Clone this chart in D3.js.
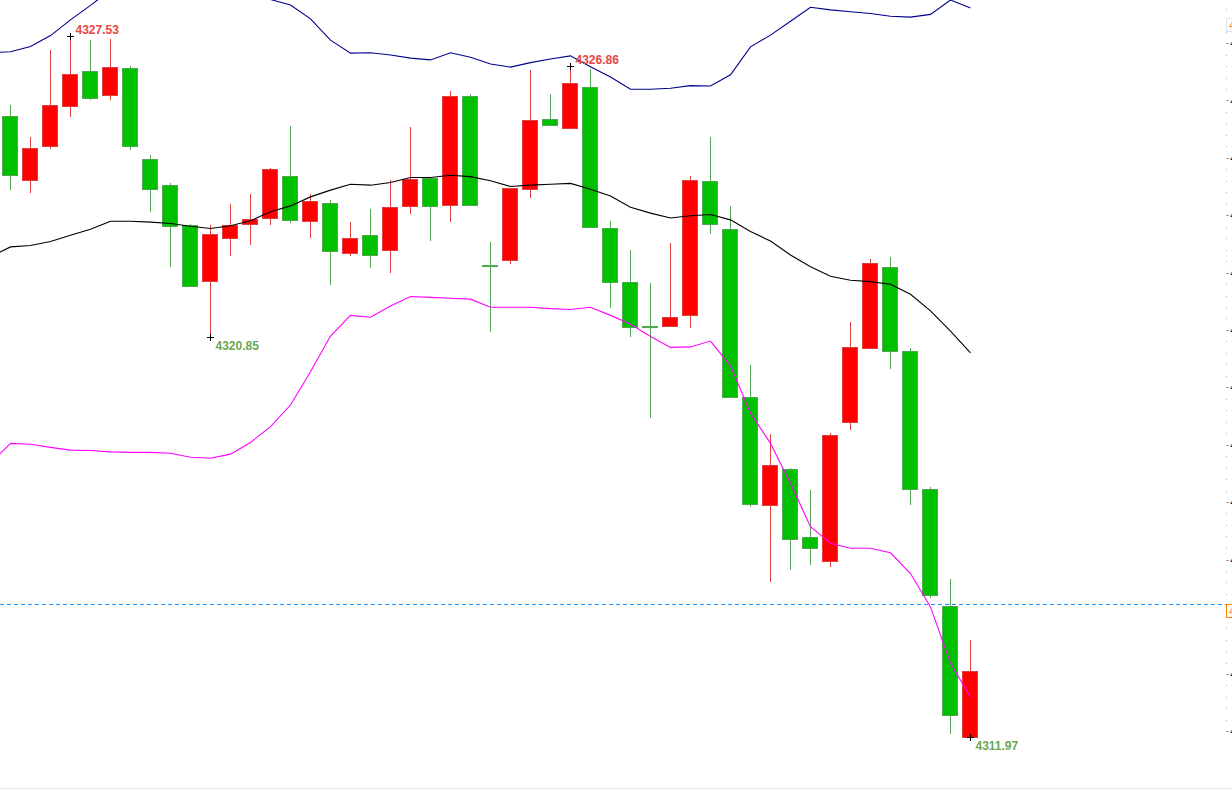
<!DOCTYPE html>
<html>
<head>
<meta charset="utf-8">
<script src="https://cdn.jsdelivr.net/npm/d3@7"></script>
<style>
  html, body { margin: 0; padding: 0; background: #fff; overflow: hidden; }
  svg { display: block; }
</style>
</head>
<body>
<div id="chart"></div>
<script>
// candles, oldest first
var opens = [4325.75, 4324.32, 4325.08, 4325.97, 4326.75, 4326.21, 4326.82, 4324.79, 4324.22, 4323.33,
             4322.09, 4323.04, 4323.37, 4323.48, 4324.42, 4323.41, 4323.82, 4322.71, 4323.11, 4322.77,
             4323.77, 4324.38, 4323.77, 4326.21, 4322.44, 4322.57, 4324.13, 4325.68, 4325.48, 4326.41,
             4323.26, 4322.06, 4321.09, 4321.09, 4321.33, 4324.31, 4323.24, 4319.52, 4317.11, 4317.91,
             4316.40, 4315.88, 4318.96, 4320.60, 4322.40, 4320.53, 4317.47, 4314.88, 4311.97];
var highs = [4325.99, 4325.30, 4327.22, 4327.53, 4327.44, 4327.46, 4326.87, 4324.89, 4324.27, 4323.36,
             4323.33, 4323.81, 4324.03, 4324.60, 4325.53, 4324.02, 4323.89, 4323.40, 4323.69, 4324.33,
             4325.51, 4324.40, 4326.31, 4326.24, 4322.96, 4324.16, 4326.78, 4326.24, 4326.86, 4326.80,
             4323.42, 4322.78, 4322.05, 4322.94, 4324.43, 4325.29, 4323.76, 4320.23, 4318.70, 4317.95,
             4317.45, 4318.71, 4321.18, 4322.58, 4322.63, 4320.60, 4317.52, 4315.48, 4314.12];
var lows = [4324.11, 4324.05, 4325.03, 4325.74, 4326.12, 4326.10, 4325.01, 4323.63, 4322.41, 4321.98,
            4320.85, 4322.65, 4322.89, 4323.34, 4323.37, 4323.05, 4322.01, 4322.65, 4322.39, 4322.28,
            4323.59, 4322.99, 4323.41, 4323.79, 4320.97, 4322.48, 4323.94, 4325.55, 4325.48, 4323.31,
            4321.50, 4320.86, 4319.06, 4321.09, 4321.06, 4323.14, 4319.51, 4317.08, 4315.42, 4315.68,
            4315.79, 4315.75, 4318.78, 4320.60, 4320.15, 4317.13, 4315.05, 4312.04, 4311.97];
var closes = [4324.44, 4325.04, 4325.99, 4326.69, 4326.14, 4326.84, 4325.08, 4324.13, 4323.30, 4321.98,
              4323.13, 4323.33, 4323.48, 4324.57, 4323.44, 4323.86, 4322.75, 4323.04, 4322.66, 4323.73,
              4324.36, 4323.75, 4326.19, 4323.79, 4322.42, 4324.16, 4325.66, 4325.55, 4326.48, 4323.31,
              4322.06, 4321.06, 4321.07, 4321.29, 4324.33, 4323.35, 4319.51, 4317.14, 4318.00, 4316.36,
              4316.16, 4318.67, 4320.62, 4322.49, 4320.54, 4317.47, 4315.12, 4312.47, 4313.43];

// bollinger bands, these start one bar before the first candle (off screen)
var bandUpper = [4327.16,
                 4327.18, 4327.30, 4327.54, 4327.89, 4328.21, 4328.55, 4328.56, 4328.52, 4328.49, 4328.45,
                 4328.40, 4328.40, 4328.37, 4328.34, 4328.22, 4327.91, 4327.44, 4327.15, 4327.16, 4327.11,
                 4327.04, 4327.00, 4327.16, 4327.06, 4326.91, 4326.84, 4326.94, 4327.02, 4327.09, 4326.85,
                 4326.62, 4326.35, 4326.35, 4326.37, 4326.43, 4326.42, 4326.67, 4327.29, 4327.55, 4327.86,
                 4328.17, 4328.11, 4328.07, 4328.03, 4327.97, 4327.95, 4328.01, 4328.33, 4328.15];
var bandMiddle = [4322.63,
                  4322.85, 4322.88, 4322.97, 4323.11, 4323.24, 4323.42, 4323.42, 4323.40, 4323.37, 4323.31,
                  4323.26, 4323.32, 4323.43, 4323.63, 4323.76, 4323.96, 4324.11, 4324.24, 4324.22, 4324.28,
                  4324.39, 4324.39, 4324.44, 4324.41, 4324.32, 4324.19, 4324.22, 4324.24, 4324.26, 4324.13,
                  4323.98, 4323.73, 4323.60, 4323.49, 4323.54, 4323.57, 4323.45, 4323.19, 4322.98, 4322.67,
                  4322.41, 4322.20, 4322.11, 4322.08, 4322.02, 4321.80, 4321.43, 4320.98, 4320.50];
var bandLower = [4318.05,
                 4318.49, 4318.47, 4318.40, 4318.34, 4318.33, 4318.30, 4318.29, 4318.29, 4318.27, 4318.18,
                 4318.16, 4318.25, 4318.51, 4318.86, 4319.34, 4320.08, 4320.87, 4321.33, 4321.29, 4321.54,
                 4321.75, 4321.73, 4321.71, 4321.69, 4321.51, 4321.51, 4321.51, 4321.48, 4321.46, 4321.51,
                 4321.33, 4321.14, 4320.86, 4320.62, 4320.63, 4320.76, 4320.21, 4319.16, 4318.49, 4317.60,
                 4316.64, 4316.27, 4316.16, 4316.16, 4316.06, 4315.60, 4314.86, 4313.61, 4312.86];

// price axis labels (right side, mostly cut off by the window);
// the one at 4314.64 sits under the price tag, so it is left out
var priceTicks = [4327.37, 4326.10, 4324.82, 4323.55, 4322.28, 4321.01, 4319.73,
                  4318.46, 4317.19, 4315.91, 4313.37, 4312.10];
var tickStep = 1.2727;     // spacing of the axis grid, minor ticks every fifth of it

var highMarks = [3, 28];   // candles with a marked high
var lowMarks = [10, 48];   // candles with a marked low
var linePrice = 4314.92;   // dashed price line
var topTagPrice = 4327.78;

var width = 1232, height = 791;
var plotRight = 1226, plotBottom = 788;

var svg = d3.select("#chart")
            .append("svg")
            .attr("width", width)
            .attr("height", height);

var x = d3.scaleLinear().domain([0, 48]).range([10.5, 970.5]);
var y = d3.scaleLinear().domain([4310.84, 4328.33]).range([plotBottom, 0]);
var step = x(1) - x(0);

svg.append("clipPath").attr("id", "plotClip")
   .append("rect").attr("x", 0).attr("y", 0).attr("width", plotRight).attr("height", plotBottom);

var plot = svg.append("g").attr("clip-path", "url(#plotClip)");

var candles = opens.map(function(o, i) {
  return { i: i, o: o, h: highs[i], l: lows[i], c: closes[i], up: closes[i] > o };
});

// wicks
plot.selectAll("line.wick")
    .data(candles)
    .enter()
    .append("line")
    .attr("class", "wick")
    .attr("x1", function(d) { return x(d.i); })
    .attr("x2", function(d) { return x(d.i); })
    .attr("y1", function(d) { return Math.round(y(d.h)); })
    .attr("y2", function(d) { return Math.round(y(d.l)); })
    .attr("stroke", function(d) { return d.up ? "#e04040" : "#55a855"; })
    .attr("stroke-width", 1)
    .attr("shape-rendering", "crispEdges");

// bodies
plot.selectAll("rect.body")
    .data(candles)
    .enter()
    .append("rect")
    .attr("class", "body")
    .attr("x", function(d) { return x(d.i) - step * 0.4; })
    .attr("y", function(d) { return Math.round(y(Math.max(d.o, d.c))) + 0.5; })
    .attr("width", step * 0.8 - 1)
    .attr("height", function(d) {
      return Math.max(1, Math.round(Math.abs(y(d.o) - y(d.c))));
    })
    .attr("fill", function(d) { return d.up ? "#ff0000" : "#00c000"; })
    .attr("stroke", function(d) { return d.up ? "#dd4040" : "#4fa84f"; })
    .attr("stroke-width", 1)
    .attr("shape-rendering", "crispEdges");

// bands
function bandLine(values, colour) {
  var line = d3.line()
               .x(function(d, j) { return x(j - 1); })
               .y(function(d) { return y(d); });
  plot.append("path")
      .datum(values)
      .attr("d", line)
      .attr("fill", "none")
      .attr("stroke", colour)
      .attr("stroke-width", 1.1);
}
bandLine(bandUpper, "#00008c");
bandLine(bandMiddle, "#000000");
bandLine(bandLower, "#ff00ff");

// dashed price line
var lineY = Math.round(y(linePrice)) + 0.5;
plot.append("line")
    .attr("x1", 0).attr("x2", plotRight)
    .attr("y1", lineY).attr("y2", lineY)
    .attr("stroke", "#1e90ff")
    .attr("stroke-width", 1)
    .attr("stroke-dasharray", "4,3")
    .attr("shape-rendering", "crispEdges");

// high / low markers
function mark(i, price, isHigh) {
  var cx = x(i), cy = Math.round(y(price)) + 0.5;
  plot.append("path")
      .attr("d", "M" + (cx - 3.5) + "," + cy + "h7M" + cx + "," + (cy - 3.5) + "v7")
      .attr("stroke", "#000")
      .attr("stroke-width", 1)
      .attr("shape-rendering", "crispEdges");
  plot.append("text")
      .attr("x", cx + 5)
      .attr("y", isHigh ? cy - 3 : cy + 12)
      .attr("font-family", "'Liberation Sans', Arial, sans-serif")
      .attr("font-size", "12px")
      .attr("font-weight", "bold")
      .attr("fill", isHigh ? "#e8463e" : "#6aa851")
      .text(price.toFixed(2));
}
highMarks.forEach(function(i) { mark(i, highs[i], true); });
lowMarks.forEach(function(i) { mark(i, lows[i], false); });

// right price axis: minor dots every fifth of the grid step
var minorTicks = [];
for (var m = -3; m < 5 * 12; m++) {
  if (m % 5 !== 0) minorTicks.push(priceTicks[0] - tickStep * m / 5);
}

var minorAxis = svg.append("g")
   .attr("transform", "translate(" + plotRight + ",0)")
   .call(d3.axisRight(y).tickValues(minorTicks).tickSize(1).tickFormat(""));
minorAxis.select(".domain").remove();
minorAxis.selectAll("line").attr("stroke", "#b8b8b8").attr("shape-rendering", "crispEdges");

var axis = svg.append("g")
   .attr("transform", "translate(" + plotRight + ",0)")
   .call(d3.axisRight(y).tickValues(priceTicks).tickSize(3).tickPadding(1).tickFormat(d3.format(".2f")));
axis.select(".domain").remove();
axis.selectAll("line").attr("stroke", "#a0a0a0").attr("shape-rendering", "crispEdges");
axis.selectAll("text")
    .attr("font-family", "'DejaVu Sans', sans-serif")
    .attr("font-size", "11px")
    .attr("fill", "#1c1c50");

// price tags on the axis
function tag(price, top, border) {
  var g = svg.append("g").attr("transform", "translate(" + plotRight + "," + top + ")");
  g.append("rect")
   .attr("x", 0.5).attr("y", 0.5).attr("width", 60).attr("height", 13)
   .attr("fill", "#fff").attr("stroke", border).attr("shape-rendering", "crispEdges");
  g.append("text")
   .attr("x", 3).attr("y", 11)
   .attr("font-family", "'DejaVu Sans', sans-serif")
   .attr("font-size", "11px")
   .attr("fill", "#ff8000")
   .text(price.toFixed(2));
}
tag(topTagPrice, Math.round(y(topTagPrice)) - 7, "#dce4ec");
tag(linePrice, Math.round(y(linePrice)), "#ff8000");

// bottom border
svg.append("line")
   .attr("x1", 0).attr("x2", width)
   .attr("y1", plotBottom + 0.5).attr("y2", plotBottom + 0.5)
   .attr("stroke", "#e6e6e6")
   .attr("shape-rendering", "crispEdges");
</script>
</body>
</html>
